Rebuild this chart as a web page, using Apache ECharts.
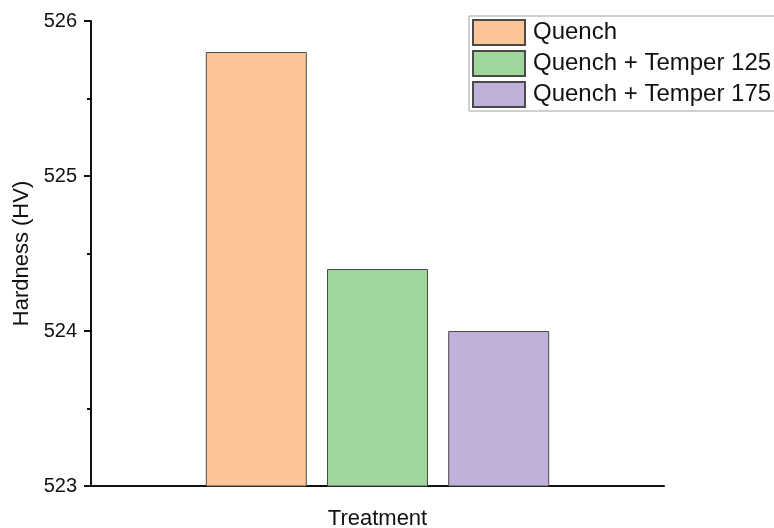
<!DOCTYPE html>
<html>
<head>
<meta charset="utf-8">
<script src="https://cdn.jsdelivr.net/npm/echarts@6/dist/echarts.min.js"></script>
<style>html,body{margin:0;padding:0;background:#fff}#c{width:774px;height:528px}</style>
</head>
<body>
<div id="c"></div>
<script>
var categories = [''];
var seriesNames = ['Quench', 'Quench + Temper 125', 'Quench + Temper 175'];
var hardness = [525.8, 524.4, 524.0];
var colors = ['#FCC597', '#9FD69C', '#BFB1D9'];
var yTicks = [523, 524, 525, 526];

var FONT = '"Liberation Sans", Arial, sans-serif';
var chart = echarts.init(document.getElementById('c'));
var series = seriesNames.map(function (n, i) {
  return {
    name: n,
    type: 'bar',
    xAxisIndex: 0,
    barWidth: 101,
    barGap: '20%',
    itemStyle: { color: colors[i], borderColor: '#4a4a4a', borderWidth: 1 },
    data: [hardness[i]]
  };
});
chart.setOption({
  backgroundColor: '#ffffff',
  animation: false,
  grid: { left: 91, top: 21, right: 110, bottom: 42, containLabel: false, outerBoundsMode: 'none' },
  legend: {
    orient: 'vertical',
    left: 469, top: 16,
    itemWidth: 52, itemHeight: 25, itemGap: 4,
    padding: [3, 4, 3, 3],
    borderColor: '#a0a0a0', borderWidth: 1,
    textStyle: { fontFamily: FONT, fontSize: 24, color: '#111', padding: [0, 0, 0, 3] },
    icon: 'rect',
    data: seriesNames
  },
  xAxis: [{
    type: 'category',
    data: categories,
    name: 'Treatment',
    nameLocation: 'middle',
    nameGap: 22,
    nameTextStyle: { fontFamily: FONT, fontSize: 22, color: '#111' },
    axisLine: { lineStyle: { color: '#111', width: 2 } },
    axisTick: { alignWithLabel: true, length: 8, lineStyle: { color: '#111', width: 2 } },
    axisLabel: { show: false }
  }, {
    type: 'category',
    data: categories,
    position: 'bottom',
    axisLine: { show: false },
    axisTick: { length: 3, interval: 0, lineStyle: { color: '#111', width: 2 } },
    axisLabel: { show: false }
  }],
  yAxis: {
    type: 'value',
    min: yTicks[0], max: yTicks[yTicks.length - 1], interval: 1,
    name: 'Hardness (HV)',
    nameLocation: 'middle',
    nameGap: 56,
    nameTextStyle: { fontFamily: FONT, fontSize: 22, color: '#111' },
    axisLine: { show: true, lineStyle: { color: '#111', width: 2 } },
    axisTick: { show: true, length: 7, lineStyle: { color: '#111', width: 2 } },
    minorTick: { show: true, splitNumber: 2, length: 4, lineStyle: { color: '#111', width: 2 } },
    splitLine: { show: false },
    axisLabel: { fontFamily: FONT, fontSize: 20, color: '#111', margin: 14 }
  },
  series: series
});
</script>
</body>
</html>
